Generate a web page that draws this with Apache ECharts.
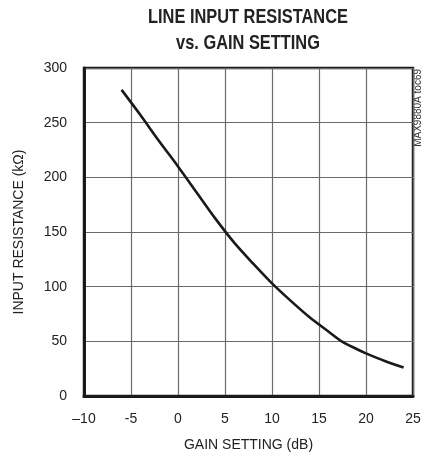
<!DOCTYPE html>
<html>
<head>
<meta charset="utf-8">
<script src="https://cdn.jsdelivr.net/npm/echarts@6/dist/echarts.min.js"></script>
<style>html,body{margin:0;padding:0;background:#fff}#c{width:425px;height:457px}</style>
</head>
<body>
<div id="c"></div>
<script>
var titleLines = ['LINE INPUT RESISTANCE', 'vs. GAIN SETTING'];
var xAxisTitle = 'GAIN SETTING (dB)';
var yAxisTitle = 'INPUT RESISTANCE (k\u03A9)';
var sideNote = 'MAX9880A toc69';
var gainDb = [-6, -4, -2, 0, 2, 4, 6, 8, 10, 12, 14, 16, 17.5, 19, 20, 22, 24];
var resistanceK = [280, 257, 233, 210, 186, 162, 140, 121, 103, 87, 72, 59, 49.5, 43, 39, 32, 26];
var xTickLabels = {'-10': '\u201310', '-5': '-5', '0': '0', '5': '5', '10': '10', '15': '15', '20': '20', '25': '25'};

var chart = echarts.init(document.getElementById('c'));
var font = '"Liberation Sans", Arial, sans-serif';
var data = gainDb.map(function (g, i) { return [g, resistanceK[i]]; });
chart.setOption({
  animation: false,
  grid: { left: 84, right: 12, top: 68, bottom: 60, show: true, borderColor: '#1a1a1a', borderWidth: 2.5, containLabel: false },
  xAxis: {
    type: 'value', min: -10, max: 25, interval: 5,
    name: xAxisTitle, nameLocation: 'middle', nameGap: 42,
    nameTextStyle: { fontFamily: font, fontSize: 14, color: '#222' },
    axisLine: { show: true, onZero: false, lineStyle: { color: '#1a1a1a', width: 3 } },
    axisTick: { show: false },
    axisLabel: { fontFamily: font, fontSize: 14, color: '#222', margin: 16,
      formatter: function (v) { return xTickLabels[String(v)] !== undefined ? xTickLabels[String(v)] : String(v); } },
    splitLine: { show: true, lineStyle: { color: '#6a6a6a', width: 1.2 } }
  },
  yAxis: {
    type: 'value', min: 0, max: 300, interval: 50,
    name: yAxisTitle, nameLocation: 'middle', nameGap: 58, nameRotate: 90,
    nameTextStyle: { fontFamily: font, fontSize: 14, color: '#222' },
    axisLine: { show: true, onZero: false, lineStyle: { color: '#1a1a1a', width: 3 } },
    axisTick: { show: false },
    axisLabel: { fontFamily: font, fontSize: 14, color: '#222', margin: 17 },
    splitLine: { show: true, lineStyle: { color: '#6a6a6a', width: 1.2 } }
  },
  series: [{
    type: 'line', data: data, smooth: 0.3, symbol: 'none',
    lineStyle: { color: '#1a1a1a', width: 2.6 }
  }],
  graphic: [
    { type: 'text', x: 248, y: 17, scaleX: 0.78,
      style: { text: titleLines[0], font: 'bold 21px ' + font, fill: '#222', textAlign: 'center', textVerticalAlign: 'middle' } },
    { type: 'text', x: 248, y: 43, scaleX: 0.78,
      style: { text: titleLines[1], font: 'bold 21px ' + font, fill: '#222', textAlign: 'center', textVerticalAlign: 'middle' } },
    { type: 'text', x: 418, y: 69, rotation: Math.PI / 2,
      style: { text: sideNote, font: '10px ' + font, fill: '#333', textAlign: 'right', textVerticalAlign: 'middle' } }
  ]
});
</script>
</body>
</html>
